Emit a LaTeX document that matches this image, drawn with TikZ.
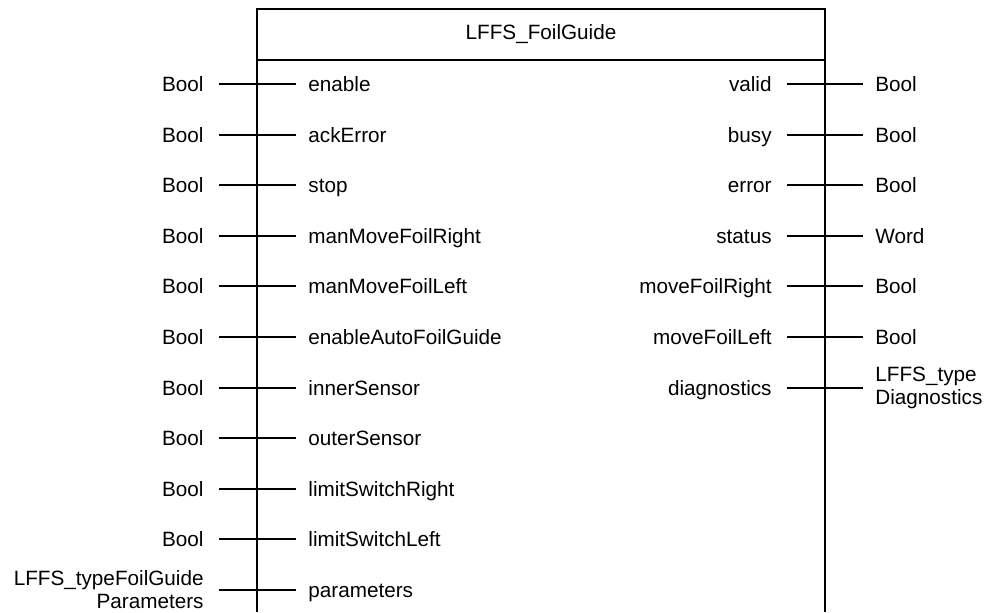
\documentclass[tikz,border=0pt]{standalone}
\usepackage{fontspec}
\setmainfont{Liberation Sans}

\tikzset{
  intype/.style={anchor=east,inner xsep=7.5pt,text height=7.4pt,text depth=0pt},
  inname/.style={anchor=west,inner xsep=6pt,text height=7.4pt,text depth=0pt},
  outname/.style={anchor=east,inner xsep=7.5pt,text height=7.4pt,text depth=0pt},
  outtype/.style={anchor=west,inner xsep=6pt,text height=7.4pt,text depth=0pt},
  pin/.style={line width=1pt}
}

\begin{document}
\begin{tikzpicture}[x=0.5pt,y=-0.5pt,font=\fontsize{10.35}{11.5}\selectfont]
  \useasboundingbox (0,0) rectangle (989,612);

  % block
  \draw[line width=1pt] (257,612) -- (257,9) -- (825,9) -- (825,612);
  \draw[line width=1pt] (257,60) -- (825,60);
  \node (title) at (541,34.5) {LFFS\_FoilGuide};

  % inputs
  \node[intype] (ti1) at (219,84) {Bool};
  \node[inname] (ni1) at (296,84) {enable};
  \node[intype] (ti2) at (219,134.6) {Bool};
  \node[inname] (ni2) at (296,134.6) {ackError};
  \node[intype] (ti3) at (219,185.2) {Bool};
  \node[inname] (ni3) at (296,185.2) {stop};
  \node[intype] (ti4) at (219,235.8) {Bool};
  \node[inname] (ni4) at (296,235.8) {manMoveFoilRight};
  \node[intype] (ti5) at (219,286.4) {Bool};
  \node[inname] (ni5) at (296,286.4) {manMoveFoilLeft};
  \node[intype] (ti6) at (219,337) {Bool};
  \node[inname] (ni6) at (296,337) {enableAutoFoilGuide};
  \node[intype] (ti7) at (219,387.6) {Bool};
  \node[inname] (ni7) at (296,387.6) {innerSensor};
  \node[intype] (ti8) at (219,438.2) {Bool};
  \node[inname] (ni8) at (296,438.2) {outerSensor};
  \node[intype] (ti9) at (219,488.8) {Bool};
  \node[inname] (ni9) at (296,488.8) {limitSwitchRight};
  \node[intype] (ti10) at (219,539.4) {Bool};
  \node[inname] (ni10) at (296,539.4) {limitSwitchLeft};
  \node[anchor=east,inner xsep=7.5pt,align=right] (ti11) at (219,590)
    {LFFS\_typeFoilGuide\\Parameters};
  \node[inname] (ni11) at (296,590) {parameters};

  % outputs
  \node[outname] (no1) at (787,84) {valid};
  \node[outtype] (to1) at (863,84) {Bool};
  \node[outname] (no2) at (787,134.6) {busy};
  \node[outtype] (to2) at (863,134.6) {Bool};
  \node[outname] (no3) at (787,185.2) {error};
  \node[outtype] (to3) at (863,185.2) {Bool};
  \node[outname] (no4) at (787,235.8) {status};
  \node[outtype] (to4) at (863,235.8) {Word};
  \node[outname] (no5) at (787,286.4) {moveFoilRight};
  \node[outtype] (to5) at (863,286.4) {Bool};
  \node[outname] (no6) at (787,337) {moveFoilLeft};
  \node[outtype] (to6) at (863,337) {Bool};
  \node[outname] (no7) at (787,387.6) {diagnostics};
  \node[anchor=west,inner xsep=6pt,align=left] (to7) at (863,387.6)
    {LFFS\_type\\Diagnostics};

  \draw[pin] (ti1) -- (ni1);
  \draw[pin] (ti2) -- (ni2);
  \draw[pin] (ti3) -- (ni3);
  \draw[pin] (ti4) -- (ni4);
  \draw[pin] (ti5) -- (ni5);
  \draw[pin] (ti6) -- (ni6);
  \draw[pin] (ti7) -- (ni7);
  \draw[pin] (ti8) -- (ni8);
  \draw[pin] (ti9) -- (ni9);
  \draw[pin] (ti10) -- (ni10);
  \draw[pin] (ti11) -- (ni11);

  \draw[pin] (no1) -- (to1);
  \draw[pin] (no2) -- (to2);
  \draw[pin] (no3) -- (to3);
  \draw[pin] (no4) -- (to4);
  \draw[pin] (no5) -- (to5);
  \draw[pin] (no6) -- (to6);
  \draw[pin] (no7) -- (to7);
\end{tikzpicture}
\end{document}
